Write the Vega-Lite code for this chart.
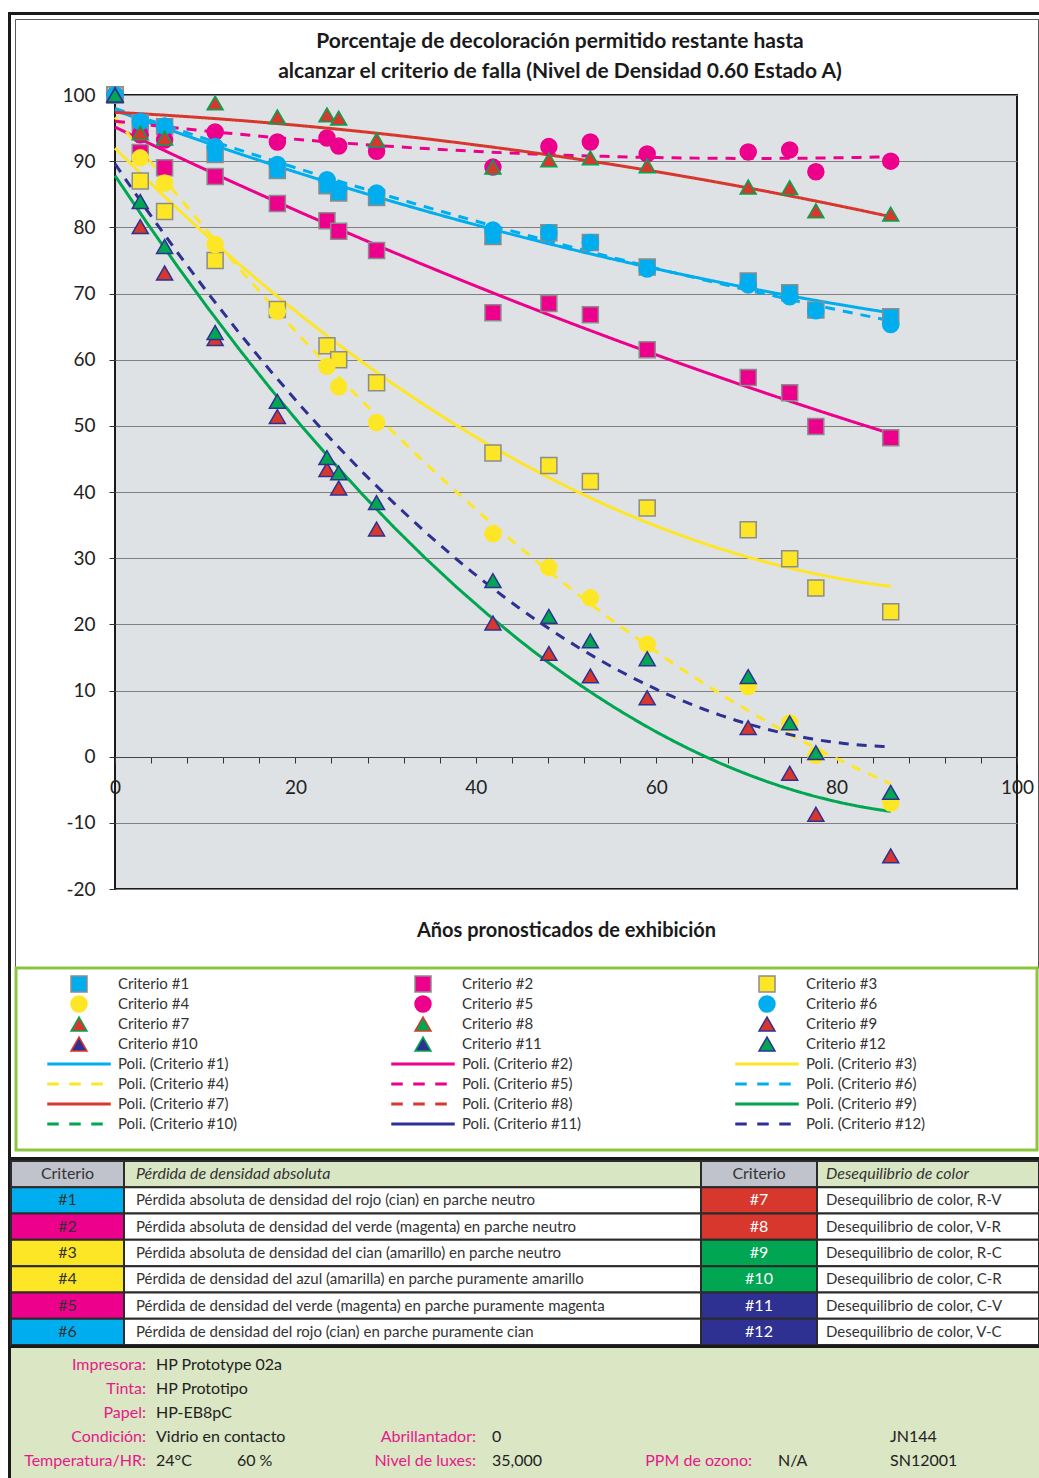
{
  "$schema": "https://vega.github.io/schema/vega-lite/v6.json",
  "padding": 0,
  "background": "white",
  "config": {
    "view": {"stroke": null},
    "font": "Lato",
    "axis": {"labelFont": "Lato", "titleFont": "Lato"},
    "legend": {"labelFont": "Lato"},
    "title": {"font": "Lato"},
    "text": {"font": "Lato"}
  },
  "datasets": {
    "mediciones": [
      {"anio": 0, "valor": 100, "criterio": "Criterio #1", "poli": "Poli. (Criterio #1)"},
      {"anio": 2.8, "valor": 95.8, "criterio": "Criterio #1", "poli": "Poli. (Criterio #1)"},
      {"anio": 5.5, "valor": 95.2, "criterio": "Criterio #1", "poli": "Poli. (Criterio #1)"},
      {"anio": 11.1, "valor": 91.0, "criterio": "Criterio #1", "poli": "Poli. (Criterio #1)"},
      {"anio": 18.0, "valor": 88.6, "criterio": "Criterio #1", "poli": "Poli. (Criterio #1)"},
      {"anio": 23.5, "valor": 86.3, "criterio": "Criterio #1", "poli": "Poli. (Criterio #1)"},
      {"anio": 24.8, "valor": 85.2, "criterio": "Criterio #1", "poli": "Poli. (Criterio #1)"},
      {"anio": 29.0, "valor": 84.5, "criterio": "Criterio #1", "poli": "Poli. (Criterio #1)"},
      {"anio": 41.9, "valor": 78.6, "criterio": "Criterio #1", "poli": "Poli. (Criterio #1)"},
      {"anio": 48.1, "valor": 79.2, "criterio": "Criterio #1", "poli": "Poli. (Criterio #1)"},
      {"anio": 52.7, "valor": 77.7, "criterio": "Criterio #1", "poli": "Poli. (Criterio #1)"},
      {"anio": 59.0, "valor": 74.0, "criterio": "Criterio #1", "poli": "Poli. (Criterio #1)"},
      {"anio": 70.2, "valor": 71.9, "criterio": "Criterio #1", "poli": "Poli. (Criterio #1)"},
      {"anio": 74.8, "valor": 70.1, "criterio": "Criterio #1", "poli": "Poli. (Criterio #1)"},
      {"anio": 77.7, "valor": 67.5, "criterio": "Criterio #1", "poli": "Poli. (Criterio #1)"},
      {"anio": 86.0, "valor": 66.5, "criterio": "Criterio #1", "poli": "Poli. (Criterio #1)"},

      {"anio": 0, "valor": 100, "criterio": "Criterio #2", "poli": "Poli. (Criterio #2)"},
      {"anio": 2.8, "valor": 91.3, "criterio": "Criterio #2", "poli": "Poli. (Criterio #2)"},
      {"anio": 5.5, "valor": 89.0, "criterio": "Criterio #2", "poli": "Poli. (Criterio #2)"},
      {"anio": 11.1, "valor": 87.7, "criterio": "Criterio #2", "poli": "Poli. (Criterio #2)"},
      {"anio": 18.0, "valor": 83.6, "criterio": "Criterio #2", "poli": "Poli. (Criterio #2)"},
      {"anio": 23.5, "valor": 81.0, "criterio": "Criterio #2", "poli": "Poli. (Criterio #2)"},
      {"anio": 24.8, "valor": 79.4, "criterio": "Criterio #2", "poli": "Poli. (Criterio #2)"},
      {"anio": 29.0, "valor": 76.5, "criterio": "Criterio #2", "poli": "Poli. (Criterio #2)"},
      {"anio": 41.9, "valor": 67.1, "criterio": "Criterio #2", "poli": "Poli. (Criterio #2)"},
      {"anio": 48.1, "valor": 68.5, "criterio": "Criterio #2", "poli": "Poli. (Criterio #2)"},
      {"anio": 52.7, "valor": 66.8, "criterio": "Criterio #2", "poli": "Poli. (Criterio #2)"},
      {"anio": 59.0, "valor": 61.5, "criterio": "Criterio #2", "poli": "Poli. (Criterio #2)"},
      {"anio": 70.2, "valor": 57.3, "criterio": "Criterio #2", "poli": "Poli. (Criterio #2)"},
      {"anio": 74.8, "valor": 55.0, "criterio": "Criterio #2", "poli": "Poli. (Criterio #2)"},
      {"anio": 77.7, "valor": 49.9, "criterio": "Criterio #2", "poli": "Poli. (Criterio #2)"},
      {"anio": 86.0, "valor": 48.2, "criterio": "Criterio #2", "poli": "Poli. (Criterio #2)"},

      {"anio": 0, "valor": 100, "criterio": "Criterio #3", "poli": "Poli. (Criterio #3)"},
      {"anio": 2.8, "valor": 87.0, "criterio": "Criterio #3", "poli": "Poli. (Criterio #3)"},
      {"anio": 5.5, "valor": 82.4, "criterio": "Criterio #3", "poli": "Poli. (Criterio #3)"},
      {"anio": 11.1, "valor": 75.0, "criterio": "Criterio #3", "poli": "Poli. (Criterio #3)"},
      {"anio": 18.0, "valor": 67.6, "criterio": "Criterio #3", "poli": "Poli. (Criterio #3)"},
      {"anio": 23.5, "valor": 62.1, "criterio": "Criterio #3", "poli": "Poli. (Criterio #3)"},
      {"anio": 24.8, "valor": 60.0, "criterio": "Criterio #3", "poli": "Poli. (Criterio #3)"},
      {"anio": 29.0, "valor": 56.5, "criterio": "Criterio #3", "poli": "Poli. (Criterio #3)"},
      {"anio": 41.9, "valor": 45.9, "criterio": "Criterio #3", "poli": "Poli. (Criterio #3)"},
      {"anio": 48.1, "valor": 44.0, "criterio": "Criterio #3", "poli": "Poli. (Criterio #3)"},
      {"anio": 52.7, "valor": 41.6, "criterio": "Criterio #3", "poli": "Poli. (Criterio #3)"},
      {"anio": 59.0, "valor": 37.6, "criterio": "Criterio #3", "poli": "Poli. (Criterio #3)"},
      {"anio": 70.2, "valor": 34.3, "criterio": "Criterio #3", "poli": "Poli. (Criterio #3)"},
      {"anio": 74.8, "valor": 29.9, "criterio": "Criterio #3", "poli": "Poli. (Criterio #3)"},
      {"anio": 77.7, "valor": 25.5, "criterio": "Criterio #3", "poli": "Poli. (Criterio #3)"},
      {"anio": 86.0, "valor": 21.9, "criterio": "Criterio #3", "poli": "Poli. (Criterio #3)"},

      {"anio": 0, "valor": 100, "criterio": "Criterio #4", "poli": "Poli. (Criterio #4)"},
      {"anio": 2.8, "valor": 90.5, "criterio": "Criterio #4", "poli": "Poli. (Criterio #4)"},
      {"anio": 5.5, "valor": 86.7, "criterio": "Criterio #4", "poli": "Poli. (Criterio #4)"},
      {"anio": 11.1, "valor": 77.4, "criterio": "Criterio #4", "poli": "Poli. (Criterio #4)"},
      {"anio": 18.0, "valor": 67.3, "criterio": "Criterio #4", "poli": "Poli. (Criterio #4)"},
      {"anio": 23.5, "valor": 59.0, "criterio": "Criterio #4", "poli": "Poli. (Criterio #4)"},
      {"anio": 24.8, "valor": 55.9, "criterio": "Criterio #4", "poli": "Poli. (Criterio #4)"},
      {"anio": 29.0, "valor": 50.5, "criterio": "Criterio #4", "poli": "Poli. (Criterio #4)"},
      {"anio": 41.9, "valor": 33.7, "criterio": "Criterio #4", "poli": "Poli. (Criterio #4)"},
      {"anio": 48.1, "valor": 28.6, "criterio": "Criterio #4", "poli": "Poli. (Criterio #4)"},
      {"anio": 52.7, "valor": 24.0, "criterio": "Criterio #4", "poli": "Poli. (Criterio #4)"},
      {"anio": 59.0, "valor": 17.0, "criterio": "Criterio #4", "poli": "Poli. (Criterio #4)"},
      {"anio": 70.2, "valor": 10.6, "criterio": "Criterio #4", "poli": "Poli. (Criterio #4)"},
      {"anio": 74.8, "valor": 5.1, "criterio": "Criterio #4", "poli": "Poli. (Criterio #4)"},
      {"anio": 77.7, "valor": 0.2, "criterio": "Criterio #4", "poli": "Poli. (Criterio #4)"},
      {"anio": 86.0, "valor": -7.0, "criterio": "Criterio #4", "poli": "Poli. (Criterio #4)"},

      {"anio": 0, "valor": 100, "criterio": "Criterio #5", "poli": "Poli. (Criterio #5)"},
      {"anio": 2.8, "valor": 94.0, "criterio": "Criterio #5", "poli": "Poli. (Criterio #5)"},
      {"anio": 5.5, "valor": 93.2, "criterio": "Criterio #5", "poli": "Poli. (Criterio #5)"},
      {"anio": 11.1, "valor": 94.4, "criterio": "Criterio #5", "poli": "Poli. (Criterio #5)"},
      {"anio": 18.0, "valor": 92.9, "criterio": "Criterio #5", "poli": "Poli. (Criterio #5)"},
      {"anio": 23.5, "valor": 93.5, "criterio": "Criterio #5", "poli": "Poli. (Criterio #5)"},
      {"anio": 24.8, "valor": 92.3, "criterio": "Criterio #5", "poli": "Poli. (Criterio #5)"},
      {"anio": 29.0, "valor": 91.5, "criterio": "Criterio #5", "poli": "Poli. (Criterio #5)"},
      {"anio": 41.9, "valor": 89.1, "criterio": "Criterio #5", "poli": "Poli. (Criterio #5)"},
      {"anio": 48.1, "valor": 92.2, "criterio": "Criterio #5", "poli": "Poli. (Criterio #5)"},
      {"anio": 52.7, "valor": 92.9, "criterio": "Criterio #5", "poli": "Poli. (Criterio #5)"},
      {"anio": 59.0, "valor": 91.1, "criterio": "Criterio #5", "poli": "Poli. (Criterio #5)"},
      {"anio": 70.2, "valor": 91.4, "criterio": "Criterio #5", "poli": "Poli. (Criterio #5)"},
      {"anio": 74.8, "valor": 91.7, "criterio": "Criterio #5", "poli": "Poli. (Criterio #5)"},
      {"anio": 77.7, "valor": 88.4, "criterio": "Criterio #5", "poli": "Poli. (Criterio #5)"},
      {"anio": 86.0, "valor": 90.0, "criterio": "Criterio #5", "poli": "Poli. (Criterio #5)"},

      {"anio": 0, "valor": 100, "criterio": "Criterio #6", "poli": "Poli. (Criterio #6)"},
      {"anio": 2.8, "valor": 96.0, "criterio": "Criterio #6", "poli": "Poli. (Criterio #6)"},
      {"anio": 5.5, "valor": 95.3, "criterio": "Criterio #6", "poli": "Poli. (Criterio #6)"},
      {"anio": 11.1, "valor": 92.2, "criterio": "Criterio #6", "poli": "Poli. (Criterio #6)"},
      {"anio": 18.0, "valor": 89.5, "criterio": "Criterio #6", "poli": "Poli. (Criterio #6)"},
      {"anio": 23.5, "valor": 87.2, "criterio": "Criterio #6", "poli": "Poli. (Criterio #6)"},
      {"anio": 24.8, "valor": 85.8, "criterio": "Criterio #6", "poli": "Poli. (Criterio #6)"},
      {"anio": 29.0, "valor": 85.2, "criterio": "Criterio #6", "poli": "Poli. (Criterio #6)"},
      {"anio": 41.9, "valor": 79.6, "criterio": "Criterio #6", "poli": "Poli. (Criterio #6)"},
      {"anio": 48.1, "valor": 79.2, "criterio": "Criterio #6", "poli": "Poli. (Criterio #6)"},
      {"anio": 52.7, "valor": 77.7, "criterio": "Criterio #6", "poli": "Poli. (Criterio #6)"},
      {"anio": 59.0, "valor": 73.7, "criterio": "Criterio #6", "poli": "Poli. (Criterio #6)"},
      {"anio": 70.2, "valor": 71.3, "criterio": "Criterio #6", "poli": "Poli. (Criterio #6)"},
      {"anio": 74.8, "valor": 69.5, "criterio": "Criterio #6", "poli": "Poli. (Criterio #6)"},
      {"anio": 77.7, "valor": 67.4, "criterio": "Criterio #6", "poli": "Poli. (Criterio #6)"},
      {"anio": 86.0, "valor": 65.3, "criterio": "Criterio #6", "poli": "Poli. (Criterio #6)"},

      {"anio": 0, "valor": 100, "criterio": "Criterio #7", "poli": "Poli. (Criterio #7)"},
      {"anio": 2.8, "valor": 94.3, "criterio": "Criterio #7", "poli": "Poli. (Criterio #7)"},
      {"anio": 5.5, "valor": 93.5, "criterio": "Criterio #7", "poli": "Poli. (Criterio #7)"},
      {"anio": 11.1, "valor": 98.8, "criterio": "Criterio #7", "poli": "Poli. (Criterio #7)"},
      {"anio": 18.0, "valor": 96.7, "criterio": "Criterio #7", "poli": "Poli. (Criterio #7)"},
      {"anio": 23.5, "valor": 97.0, "criterio": "Criterio #7", "poli": "Poli. (Criterio #7)"},
      {"anio": 24.8, "valor": 96.5, "criterio": "Criterio #7", "poli": "Poli. (Criterio #7)"},
      {"anio": 29.0, "valor": 93.2, "criterio": "Criterio #7", "poli": "Poli. (Criterio #7)"},
      {"anio": 41.9, "valor": 89.1, "criterio": "Criterio #7", "poli": "Poli. (Criterio #7)"},
      {"anio": 48.1, "valor": 90.2, "criterio": "Criterio #7", "poli": "Poli. (Criterio #7)"},
      {"anio": 52.7, "valor": 90.5, "criterio": "Criterio #7", "poli": "Poli. (Criterio #7)"},
      {"anio": 59.0, "valor": 89.3, "criterio": "Criterio #7", "poli": "Poli. (Criterio #7)"},
      {"anio": 70.2, "valor": 86.1, "criterio": "Criterio #7", "poli": "Poli. (Criterio #7)"},
      {"anio": 74.8, "valor": 86.0, "criterio": "Criterio #7", "poli": "Poli. (Criterio #7)"},
      {"anio": 77.7, "valor": 82.5, "criterio": "Criterio #7", "poli": "Poli. (Criterio #7)"},
      {"anio": 86.0, "valor": 82.0, "criterio": "Criterio #7", "poli": "Poli. (Criterio #7)"},

      {"anio": 0, "valor": 100, "criterio": "Criterio #9", "poli": "Poli. (Criterio #9)"},
      {"anio": 2.8, "valor": 80.1, "criterio": "Criterio #9", "poli": "Poli. (Criterio #9)"},
      {"anio": 5.5, "valor": 73.1, "criterio": "Criterio #9", "poli": "Poli. (Criterio #9)"},
      {"anio": 11.1, "valor": 63.2, "criterio": "Criterio #9", "poli": "Poli. (Criterio #9)"},
      {"anio": 18.0, "valor": 51.4, "criterio": "Criterio #9", "poli": "Poli. (Criterio #9)"},
      {"anio": 23.5, "valor": 43.4, "criterio": "Criterio #9", "poli": "Poli. (Criterio #9)"},
      {"anio": 24.8, "valor": 40.6, "criterio": "Criterio #9", "poli": "Poli. (Criterio #9)"},
      {"anio": 29.0, "valor": 34.4, "criterio": "Criterio #9", "poli": "Poli. (Criterio #9)"},
      {"anio": 41.9, "valor": 20.2, "criterio": "Criterio #9", "poli": "Poli. (Criterio #9)"},
      {"anio": 48.1, "valor": 15.6, "criterio": "Criterio #9", "poli": "Poli. (Criterio #9)"},
      {"anio": 52.7, "valor": 12.2, "criterio": "Criterio #9", "poli": "Poli. (Criterio #9)"},
      {"anio": 59.0, "valor": 8.9, "criterio": "Criterio #9", "poli": "Poli. (Criterio #9)"},
      {"anio": 70.2, "valor": 4.4, "criterio": "Criterio #9", "poli": "Poli. (Criterio #9)"},
      {"anio": 74.8, "valor": -2.5, "criterio": "Criterio #9", "poli": "Poli. (Criterio #9)"},
      {"anio": 77.7, "valor": -8.7, "criterio": "Criterio #9", "poli": "Poli. (Criterio #9)"},
      {"anio": 86.0, "valor": -15.0, "criterio": "Criterio #9", "poli": "Poli. (Criterio #9)"},

      {"anio": 0, "valor": 100, "criterio": "Criterio #12", "poli": "Poli. (Criterio #12)"},
      {"anio": 2.8, "valor": 83.9, "criterio": "Criterio #12", "poli": "Poli. (Criterio #12)"},
      {"anio": 5.5, "valor": 77.1, "criterio": "Criterio #12", "poli": "Poli. (Criterio #12)"},
      {"anio": 11.1, "valor": 64.1, "criterio": "Criterio #12", "poli": "Poli. (Criterio #12)"},
      {"anio": 18.0, "valor": 53.7, "criterio": "Criterio #12", "poli": "Poli. (Criterio #12)"},
      {"anio": 23.5, "valor": 45.2, "criterio": "Criterio #12", "poli": "Poli. (Criterio #12)"},
      {"anio": 24.8, "valor": 42.9, "criterio": "Criterio #12", "poli": "Poli. (Criterio #12)"},
      {"anio": 29.0, "valor": 38.4, "criterio": "Criterio #12", "poli": "Poli. (Criterio #12)"},
      {"anio": 41.9, "valor": 26.6, "criterio": "Criterio #12", "poli": "Poli. (Criterio #12)"},
      {"anio": 48.1, "valor": 21.2, "criterio": "Criterio #12", "poli": "Poli. (Criterio #12)"},
      {"anio": 52.7, "valor": 17.5, "criterio": "Criterio #12", "poli": "Poli. (Criterio #12)"},
      {"anio": 59.0, "valor": 14.8, "criterio": "Criterio #12", "poli": "Poli. (Criterio #12)"},
      {"anio": 70.2, "valor": 12.1, "criterio": "Criterio #12", "poli": "Poli. (Criterio #12)"},
      {"anio": 74.8, "valor": 5.1, "criterio": "Criterio #12", "poli": "Poli. (Criterio #12)"},
      {"anio": 77.7, "valor": 0.6, "criterio": "Criterio #12", "poli": "Poli. (Criterio #12)"},
      {"anio": 86.0, "valor": -5.4, "criterio": "Criterio #12", "poli": "Poli. (Criterio #12)"}
    ],
    "tabla": [
      {"fila": "0", "criterioA": "Criterio", "textoA": "Pérdida de densidad absoluta", "criterioB": "Criterio", "textoB": "Desequilibrio de color"},
      {"fila": "1", "criterioA": "#1", "textoA": "Pérdida absoluta de densidad del rojo (cian) en parche neutro", "criterioB": "#7", "textoB": "Desequilibrio de color, R-V"},
      {"fila": "2", "criterioA": "#2", "textoA": "Pérdida absoluta de densidad del verde (magenta) en parche neutro", "criterioB": "#8", "textoB": "Desequilibrio de color, V-R"},
      {"fila": "3", "criterioA": "#3", "textoA": "Pérdida absoluta de densidad del cian (amarillo) en parche neutro", "criterioB": "#9", "textoB": "Desequilibrio de color, R-C"},
      {"fila": "4", "criterioA": "#4", "textoA": "Pérdida de densidad del azul (amarilla) en parche puramente amarillo", "criterioB": "#10", "textoB": "Desequilibrio de color, C-R"},
      {"fila": "5", "criterioA": "#5", "textoA": "Pérdida de densidad del verde (magenta) en parche puramente magenta", "criterioB": "#11", "textoB": "Desequilibrio de color, C-V"},
      {"fila": "6", "criterioA": "#6", "textoA": "Pérdida de densidad del rojo (cian) en parche puramente cian", "criterioB": "#12", "textoB": "Desequilibrio de color, V-C"}
    ],
    "ficha": [
      {"fila": "1", "columna": "1", "etiqueta": "Impresora:", "valor": "HP Prototype 02a"},
      {"fila": "2", "columna": "1", "etiqueta": "Tinta:", "valor": "HP Prototipo"},
      {"fila": "3", "columna": "1", "etiqueta": "Papel:", "valor": "HP-EB8pC"},
      {"fila": "4", "columna": "1", "etiqueta": "Condición:", "valor": "Vidrio en contacto"},
      {"fila": "5", "columna": "1", "etiqueta": "Temperatura/HR:", "valor": "24°C\u00a0\u00a0\u00a0\u00a0\u00a0\u00a0\u00a0\u00a0\u00a0\u00a0\u00a060 %"},
      {"fila": "4", "columna": "2", "etiqueta": "Abrillantador:", "valor": "0"},
      {"fila": "5", "columna": "2", "etiqueta": "Nivel de luxes:", "valor": "35,000"},
      {"fila": "5", "columna": "3", "etiqueta": "PPM de ozono:", "valor": "N/A"},
      {"fila": "4", "columna": "4", "etiqueta": "", "valor": "JN144"},
      {"fila": "5", "columna": "4", "etiqueta": "", "valor": "SN12001"}
    ]
  },
  "spacing": 0,
  "bounds": "flush",
  "resolve": {"scale": {"color": "independent", "fill": "independent", "stroke": "independent", "shape": "independent", "strokeDash": "independent"}},
  "vconcat": [
    {"width": 1039, "height": 12, "data": {"values": []}, "mark": "rect"},
    {
      "spacing": 0, "bounds": "flush",
      "hconcat": [
        {"width": 8, "height": 3, "data": {"values": []}, "mark": "rect"},
        {"width": 1031, "height": 3, "data": {"values": []}, "mark": "rect", "view": {"fill": "#1a1a1a"}}
      ]
    },
    {"width": 1039, "height": 3, "data": {"values": []}, "mark": "rect"},
    {
      "spacing": 0, "bounds": "flush",
      "resolve": {"scale": {"color": "independent", "fill": "independent", "stroke": "independent", "shape": "independent", "strokeDash": "independent"}},
      "hconcat": [
        {"width": 8, "height": 1463, "data": {"values": []}, "mark": "rect"},
        {"width": 3, "height": 1463, "data": {"values": []}, "mark": "rect", "view": {"fill": "#1a1a1a"}},
        {
          "spacing": 0, "bounds": "flush",
          "resolve": {"scale": {"color": "independent", "fill": "independent", "stroke": "independent", "shape": "independent", "strokeDash": "independent"}},
          "vconcat": [
            {"width": 1028, "height": 4, "data": {"values": []}, "mark": "rect"},
            {
              "spacing": 0, "bounds": "flush",
              "hconcat": [
                {"width": 4, "height": 949, "data": {"values": []}, "mark": "rect"},
                {"width": 1023, "height": 949, "data": {"values": []}, "mark": "rect", "view": {"stroke": "#5a5a5a", "strokeWidth": 1}}
              ]
            },
            {"width": 1028, "height": 76, "data": {"values": []}, "mark": "rect"},
            {
              "spacing": 0, "bounds": "flush",
              "resolve": {"scale": {"color": "independent", "fill": "independent", "stroke": "independent", "shape": "independent", "strokeDash": "independent"}},
              "hconcat": [
                {"width": 104, "height": 794, "data": {"values": []}, "mark": "rect"},
                {
                  "width": 902,
                  "height": 794,
                  "title": {
                    "text": ["Porcentaje de decoloración permitido restante hasta", "alcanzar el criterio de falla (Nivel de Densidad 0.60 Estado A)"],
                    "font": "Lato", "fontSize": 21, "fontWeight": "bold", "color": "#1a1a1a",
                    "lineHeight": 30, "anchor": "middle", "frame": "group", "offset": 2, "dx": -6
                  },
                  "view": {"fill": "#dfe2e5", "stroke": "#1a1a1a", "strokeWidth": 2},
                  "data": {"name": "mediciones"},
                  "encoding": {
                    "x": {
                      "field": "anio", "type": "quantitative",
                      "scale": {"domain": [0, 100], "nice": false, "zero": false},
                      "axis": {
                        "title": "Años pronosticados de exhibición",
                        "titleFontSize": 20, "titleFontWeight": "bold", "titleColor": "#1a1a1a",
                        "titleY": 173, "titleBaseline": "middle",
                        "offset": -132,
                        "values": [0, 4, 8, 12, 16, 20, 24, 28, 32, 36, 40, 44, 48, 52, 56, 60, 64, 68, 72, 76, 80, 84, 88, 92, 96, 100],
                        "labelExpr": "datum.value % 20 === 0 ? datum.label : ''",
                        "labelFontSize": 19, "labelColor": "#222", "labelPadding": 15,
                        "labelFlush": false, "labelOverlap": false, "labelBound": false,
                        "tickSize": 6, "tickColor": "#333", "tickWidth": 1,
                        "domain": true, "domainColor": "#444", "domainWidth": 1,
                        "grid": false
                      }
                    },
                    "y": {
                      "field": "valor", "type": "quantitative",
                      "scale": {"domain": [-20, 100], "nice": false, "zero": false},
                      "axis": {
                        "title": null,
                        "values": [-20, -10, 0, 10, 20, 30, 40, 50, 60, 70, 80, 90, 100],
                        "labelExpr": "datum.value < 0 ? '-' + abs(datum.value) : '' + datum.value",
                        "grid": true, "gridColor": "#7f7f7f", "gridWidth": 1,
                        "domain": false, "tickSize": 6, "tickColor": "#333",
                        "labelFontSize": 19, "labelColor": "#222", "labelPadding": 14
                      }
                    }
                  },
                  "layer": [
                    {
                      "transform": [{"regression": "valor", "on": "anio", "groupby": ["poli"], "method": "poly", "order": 2}],
                      "mark": {"type": "line", "strokeWidth": 3},
                      "encoding": {
                        "stroke": {"field": "poli", "type": "nominal", "legend": {"title": null}},
                        "strokeDash": {
                          "field": "poli", "type": "nominal",
                          "scale": {
                            "domain": ["Poli. (Criterio #1)", "Poli. (Criterio #2)", "Poli. (Criterio #3)", "Poli. (Criterio #4)", "Poli. (Criterio #5)", "Poli. (Criterio #6)", "Poli. (Criterio #7)", "Poli. (Criterio #8)", "Poli. (Criterio #9)", "Poli. (Criterio #10)", "Poli. (Criterio #11)", "Poli. (Criterio #12)"],
                            "range": [[1, 0], [1, 0], [1, 0], [10, 8], [10, 8], [10, 8], [1, 0], [10, 8], [1, 0], [10, 8], [1, 0], [10, 8]]
                          },
                          "legend": null
                        }
                      }
                    },
                    {
                      "mark": {"type": "point", "filled": true, "size": 256, "opacity": 1, "strokeWidth": 1.5},
                      "encoding": {
                        "fill": {
                          "field": "criterio", "type": "nominal",
                          "scale": {
                            "domain": ["Criterio #1", "Criterio #2", "Criterio #3", "Criterio #4", "Criterio #5", "Criterio #6", "Criterio #7", "Criterio #8", "Criterio #9", "Criterio #10", "Criterio #11", "Criterio #12", "Poli. (Criterio #1)", "Poli. (Criterio #2)", "Poli. (Criterio #3)", "Poli. (Criterio #4)", "Poli. (Criterio #5)", "Poli. (Criterio #6)", "Poli. (Criterio #7)", "Poli. (Criterio #8)", "Poli. (Criterio #9)", "Poli. (Criterio #10)", "Poli. (Criterio #11)", "Poli. (Criterio #12)"],
                            "range": ["#00aeef", "#ec008c", "#fde625", "#fde625", "#ec008c", "#00aeef", "#d7372d", "#00a651", "#d7372d", "#2e3192", "#2e3192", "#00a651", "transparent", "transparent", "transparent", "transparent", "transparent", "transparent", "transparent", "transparent", "transparent", "transparent", "transparent", "transparent"]
                          },
                          "legend": {
                            "title": null,
                            "orient": "none", "legendX": -67, "legendY": 880,
                            "direction": "horizontal",
                            "columns": 3, "gridAlign": "all", "columnPadding": 151, "rowPadding": -2, "padding": 0,
                            "symbolSize": 256, "symbolStrokeWidth": 1.5, "symbolOffset": 22,
                            "labelOffset": 30, "labelFont": "Lato", "labelFontSize": 15, "labelColor": "#333", "labelLimit": 300
                          }
                        },
                        "stroke": {
                          "field": "criterio", "type": "nominal",
                          "scale": {
                            "domain": ["Criterio #1", "Criterio #2", "Criterio #3", "Criterio #4", "Criterio #5", "Criterio #6", "Criterio #7", "Criterio #8", "Criterio #9", "Criterio #10", "Criterio #11", "Criterio #12", "Poli. (Criterio #1)", "Poli. (Criterio #2)", "Poli. (Criterio #3)", "Poli. (Criterio #4)", "Poli. (Criterio #5)", "Poli. (Criterio #6)", "Poli. (Criterio #7)", "Poli. (Criterio #8)", "Poli. (Criterio #9)", "Poli. (Criterio #10)", "Poli. (Criterio #11)", "Poli. (Criterio #12)"],
                            "range": ["#8c8c8c", "#8c8c8c", "#8c8c8c", "#fde625", "#ec008c", "#00aeef", "#00a651", "#d7372d", "#2e3192", "#d7372d", "#00a651", "#2e3192", "#00aeef", "#ec008c", "#fde625", "#fde625", "#ec008c", "#00aeef", "#d7372d", "#d7372d", "#00a651", "#00a651", "#2e3192", "#2e3192"]
                          },
                          "legend": {"title": null}
                        },
                        "shape": {
                          "field": "criterio", "type": "nominal",
                          "scale": {
                            "domain": ["Criterio #1", "Criterio #2", "Criterio #3", "Criterio #4", "Criterio #5", "Criterio #6", "Criterio #7", "Criterio #8", "Criterio #9", "Criterio #10", "Criterio #11", "Criterio #12", "Poli. (Criterio #1)", "Poli. (Criterio #2)", "Poli. (Criterio #3)", "Poli. (Criterio #4)", "Poli. (Criterio #5)", "Poli. (Criterio #6)", "Poli. (Criterio #7)", "Poli. (Criterio #8)", "Poli. (Criterio #9)", "Poli. (Criterio #10)", "Poli. (Criterio #11)", "Poli. (Criterio #12)"],
                            "range": [
                              "square", "square", "square", "circle", "circle", "circle",
                              "triangle-up", "triangle-up", "triangle-up", "triangle-up", "triangle-up", "triangle-up",
                              "M-3.875,-0.09375H3.875V0.09375H-3.875Z",
                              "M-3.875,-0.09375H3.875V0.09375H-3.875Z",
                              "M-3.875,-0.09375H3.875V0.09375H-3.875Z",
                              "M-3.875,-0.09375H-2.625V0.09375H-3.875Z M-1.125,-0.09375H0.125V0.09375H-1.125Z M1.625,-0.09375H2.875V0.09375H1.625Z",
                              "M-3.875,-0.09375H-2.625V0.09375H-3.875Z M-1.125,-0.09375H0.125V0.09375H-1.125Z M1.625,-0.09375H2.875V0.09375H1.625Z",
                              "M-3.875,-0.09375H-2.625V0.09375H-3.875Z M-1.125,-0.09375H0.125V0.09375H-1.125Z M1.625,-0.09375H2.875V0.09375H1.625Z",
                              "M-3.875,-0.09375H3.875V0.09375H-3.875Z",
                              "M-3.875,-0.09375H-2.625V0.09375H-3.875Z M-1.125,-0.09375H0.125V0.09375H-1.125Z M1.625,-0.09375H2.875V0.09375H1.625Z",
                              "M-3.875,-0.09375H3.875V0.09375H-3.875Z",
                              "M-3.875,-0.09375H-2.625V0.09375H-3.875Z M-1.125,-0.09375H0.125V0.09375H-1.125Z M1.625,-0.09375H2.875V0.09375H1.625Z",
                              "M-3.875,-0.09375H3.875V0.09375H-3.875Z",
                              "M-3.875,-0.09375H-2.625V0.09375H-3.875Z M-1.125,-0.09375H0.125V0.09375H-1.125Z M1.625,-0.09375H2.875V0.09375H1.625Z"
                            ]
                          },
                          "legend": {"title": null}
                        }
                      }
                    }
                  ]
                },
                {"width": 22, "height": 794, "data": {"values": []}, "mark": "rect"}
              ]
            },
            {"width": 1028, "height": 794, "data": {"values": []}, "mark": "rect"},
            {"width": 1028, "height": 79, "data": {"values": []}, "mark": "rect"},
            {
              "spacing": 0, "bounds": "flush",
              "hconcat": [
                {"width": 5, "height": 182, "data": {"values": []}, "mark": "rect"},
                {"width": 1021, "height": 182, "data": {"values": []}, "mark": "rect", "view": {"stroke": "#8cc63f", "strokeWidth": 3}},
                {"width": 2, "height": 182, "data": {"values": []}, "mark": "rect"}
              ]
            },
            {"width": 1028, "height": 182, "data": {"values": []}, "mark": "rect"},
            {"width": 1028, "height": 7, "data": {"values": []}, "mark": "rect"},
            {"width": 1028, "height": 4, "data": {"values": []}, "mark": "rect", "view": {"fill": "#1a1a1a"}},
            {
              "spacing": 0, "bounds": "flush",
              "resolve": {"scale": {"color": "independent", "y": "independent"}},
              "hconcat": [
                {
                  "width": 113, "height": 184,
                  "data": {"name": "tabla"},
                  "encoding": {"y": {"field": "fila", "type": "ordinal", "scale": {"paddingInner": 0, "paddingOuter": 0}, "axis": null}},
                  "layer": [
                    {
                      "mark": {"type": "rect", "stroke": "#2b2b2b", "strokeWidth": 2},
                      "encoding": {"color": {"field": "criterioA", "type": "nominal", "scale": {"domain": ["Criterio", "#1", "#2", "#3", "#4", "#5", "#6"], "range": ["#c0c3cb", "#00aeef", "#ec008c", "#fde625", "#fde625", "#ec008c", "#00aeef"]}, "legend": null}}
                    },
                    {
                      "mark": {"type": "text", "font": "Lato", "fontSize": 16, "color": "#333"},
                      "encoding": {"text": {"field": "criterioA"}}
                    }
                  ]
                },
                {
                  "width": 577, "height": 184,
                  "data": {"name": "tabla"},
                  "encoding": {"y": {"field": "fila", "type": "ordinal", "scale": {"paddingInner": 0, "paddingOuter": 0}, "axis": null}},
                  "layer": [
                    {
                      "mark": {"type": "rect", "stroke": "#2b2b2b", "strokeWidth": 2},
                      "encoding": {"color": {"field": "fila", "type": "nominal", "scale": {"domain": ["0", "1", "2", "3", "4", "5", "6"], "range": ["#d9e6c3", "#ffffff", "#ffffff", "#ffffff", "#ffffff", "#ffffff", "#ffffff"]}, "legend": null}}
                    },
                    {
                      "transform": [{"filter": "datum.fila === '0'"}],
                      "mark": {"type": "text", "font": "Lato", "fontSize": 16, "fontStyle": "italic", "color": "#333", "align": "left", "dx": -276.5},
                      "encoding": {"text": {"field": "textoA"}}
                    },
                    {
                      "transform": [{"filter": "datum.fila !== '0'"}],
                      "mark": {"type": "text", "font": "Lato", "fontSize": 15, "color": "#333", "align": "left", "dx": -276.5},
                      "encoding": {"text": {"field": "textoA"}}
                    }
                  ]
                },
                {
                  "width": 116, "height": 184,
                  "data": {"name": "tabla"},
                  "encoding": {"y": {"field": "fila", "type": "ordinal", "scale": {"paddingInner": 0, "paddingOuter": 0}, "axis": null}},
                  "layer": [
                    {
                      "mark": {"type": "rect", "stroke": "#2b2b2b", "strokeWidth": 2},
                      "encoding": {"color": {"field": "criterioB", "type": "nominal", "scale": {"domain": ["Criterio", "#7", "#8", "#9", "#10", "#11", "#12"], "range": ["#c0c3cb", "#d7372d", "#d7372d", "#00a651", "#00a651", "#2e3192", "#2e3192"]}, "legend": null}}
                    },
                    {
                      "transform": [{"filter": "datum.fila === '0'"}],
                      "mark": {"type": "text", "font": "Lato", "fontSize": 16, "color": "#333"},
                      "encoding": {"text": {"field": "criterioB"}}
                    },
                    {
                      "transform": [{"filter": "datum.fila !== '0'"}],
                      "mark": {"type": "text", "font": "Lato", "fontSize": 16, "color": "#ffffff"},
                      "encoding": {"text": {"field": "criterioB"}}
                    }
                  ]
                },
                {
                  "width": 222, "height": 184,
                  "data": {"name": "tabla"},
                  "encoding": {"y": {"field": "fila", "type": "ordinal", "scale": {"paddingInner": 0, "paddingOuter": 0}, "axis": null}},
                  "layer": [
                    {
                      "mark": {"type": "rect", "stroke": "#2b2b2b", "strokeWidth": 2},
                      "encoding": {"color": {"field": "fila", "type": "nominal", "scale": {"domain": ["0", "1", "2", "3", "4", "5", "6"], "range": ["#d9e6c3", "#ffffff", "#ffffff", "#ffffff", "#ffffff", "#ffffff", "#ffffff"]}, "legend": null}}
                    },
                    {
                      "transform": [{"filter": "datum.fila === '0'"}],
                      "mark": {"type": "text", "font": "Lato", "fontSize": 16, "fontStyle": "italic", "color": "#333", "align": "left", "dx": -102},
                      "encoding": {"text": {"field": "textoB"}}
                    },
                    {
                      "transform": [{"filter": "datum.fila !== '0'"}],
                      "mark": {"type": "text", "font": "Lato", "fontSize": 15, "color": "#333", "align": "left", "dx": -102},
                      "encoding": {"text": {"field": "textoB"}}
                    }
                  ]
                }
              ]
            },
            {"width": 1028, "height": 184, "data": {"values": []}, "mark": "rect"},
            {"width": 1028, "height": 3, "data": {"values": []}, "mark": "rect", "view": {"fill": "#1a1a1a"}},
            {
              "spacing": 0, "bounds": "flush",
              "resolve": {"scale": {"y": "independent"}},
              "hconcat": [
                {
                  "width": 280, "height": 130, "view": {"fill": "#dae6c4"},
                  "data": {"name": "ficha"},
                  "transform": [{"filter": "datum.columna === '1'"}],
                  "encoding": {"y": {"field": "fila", "type": "ordinal", "scale": {"type": "point", "domain": ["1", "2", "3", "4", "5"], "padding": 0.708}, "axis": null}},
                  "layer": [
                    {"mark": {"type": "text", "align": "right", "dx": -5, "font": "Lato", "fontSize": 16, "color": "#e6198a"}, "encoding": {"text": {"field": "etiqueta"}}},
                    {"mark": {"type": "text", "align": "left", "dx": 5, "font": "Lato", "fontSize": 16, "color": "#222"}, "encoding": {"text": {"field": "valor"}}}
                  ]
                },
                {
                  "width": 386, "height": 130, "view": {"fill": "#dae6c4"},
                  "data": {"name": "ficha"},
                  "transform": [{"filter": "datum.columna === '2'"}],
                  "encoding": {"y": {"field": "fila", "type": "ordinal", "scale": {"type": "point", "domain": ["1", "2", "3", "4", "5"], "padding": 0.708}, "axis": null}},
                  "layer": [
                    {"mark": {"type": "text", "align": "right", "dx": -8, "font": "Lato", "fontSize": 16, "color": "#e6198a"}, "encoding": {"text": {"field": "etiqueta"}}},
                    {"mark": {"type": "text", "align": "left", "dx": 8, "font": "Lato", "fontSize": 16, "color": "#222"}, "encoding": {"text": {"field": "valor"}}}
                  ]
                },
                {
                  "width": 362, "height": 130, "view": {"fill": "#dae6c4"},
                  "data": {"name": "ficha"},
                  "transform": [{"filter": "datum.columna === '3' || datum.columna === '4'"}],
                  "encoding": {"y": {"field": "fila", "type": "ordinal", "scale": {"type": "point", "domain": ["1", "2", "3", "4", "5"], "padding": 0.708}, "axis": null}},
                  "layer": [
                    {"transform": [{"filter": "datum.columna === '3'"}], "mark": {"type": "text", "align": "right", "dx": -106, "font": "Lato", "fontSize": 16, "color": "#e6198a"}, "encoding": {"text": {"field": "etiqueta"}}},
                    {"transform": [{"filter": "datum.columna === '3'"}], "mark": {"type": "text", "align": "left", "dx": -80, "font": "Lato", "fontSize": 16, "color": "#222"}, "encoding": {"text": {"field": "valor"}}},
                    {"transform": [{"filter": "datum.columna === '4'"}], "mark": {"type": "text", "align": "left", "dx": 32, "font": "Lato", "fontSize": 16, "color": "#222"}, "encoding": {"text": {"field": "valor"}}}
                  ]
                }
              ]
            },
            {"width": 1028, "height": 130, "data": {"values": []}, "mark": "rect"}
          ]
        }
      ]
    }
  ]
}
